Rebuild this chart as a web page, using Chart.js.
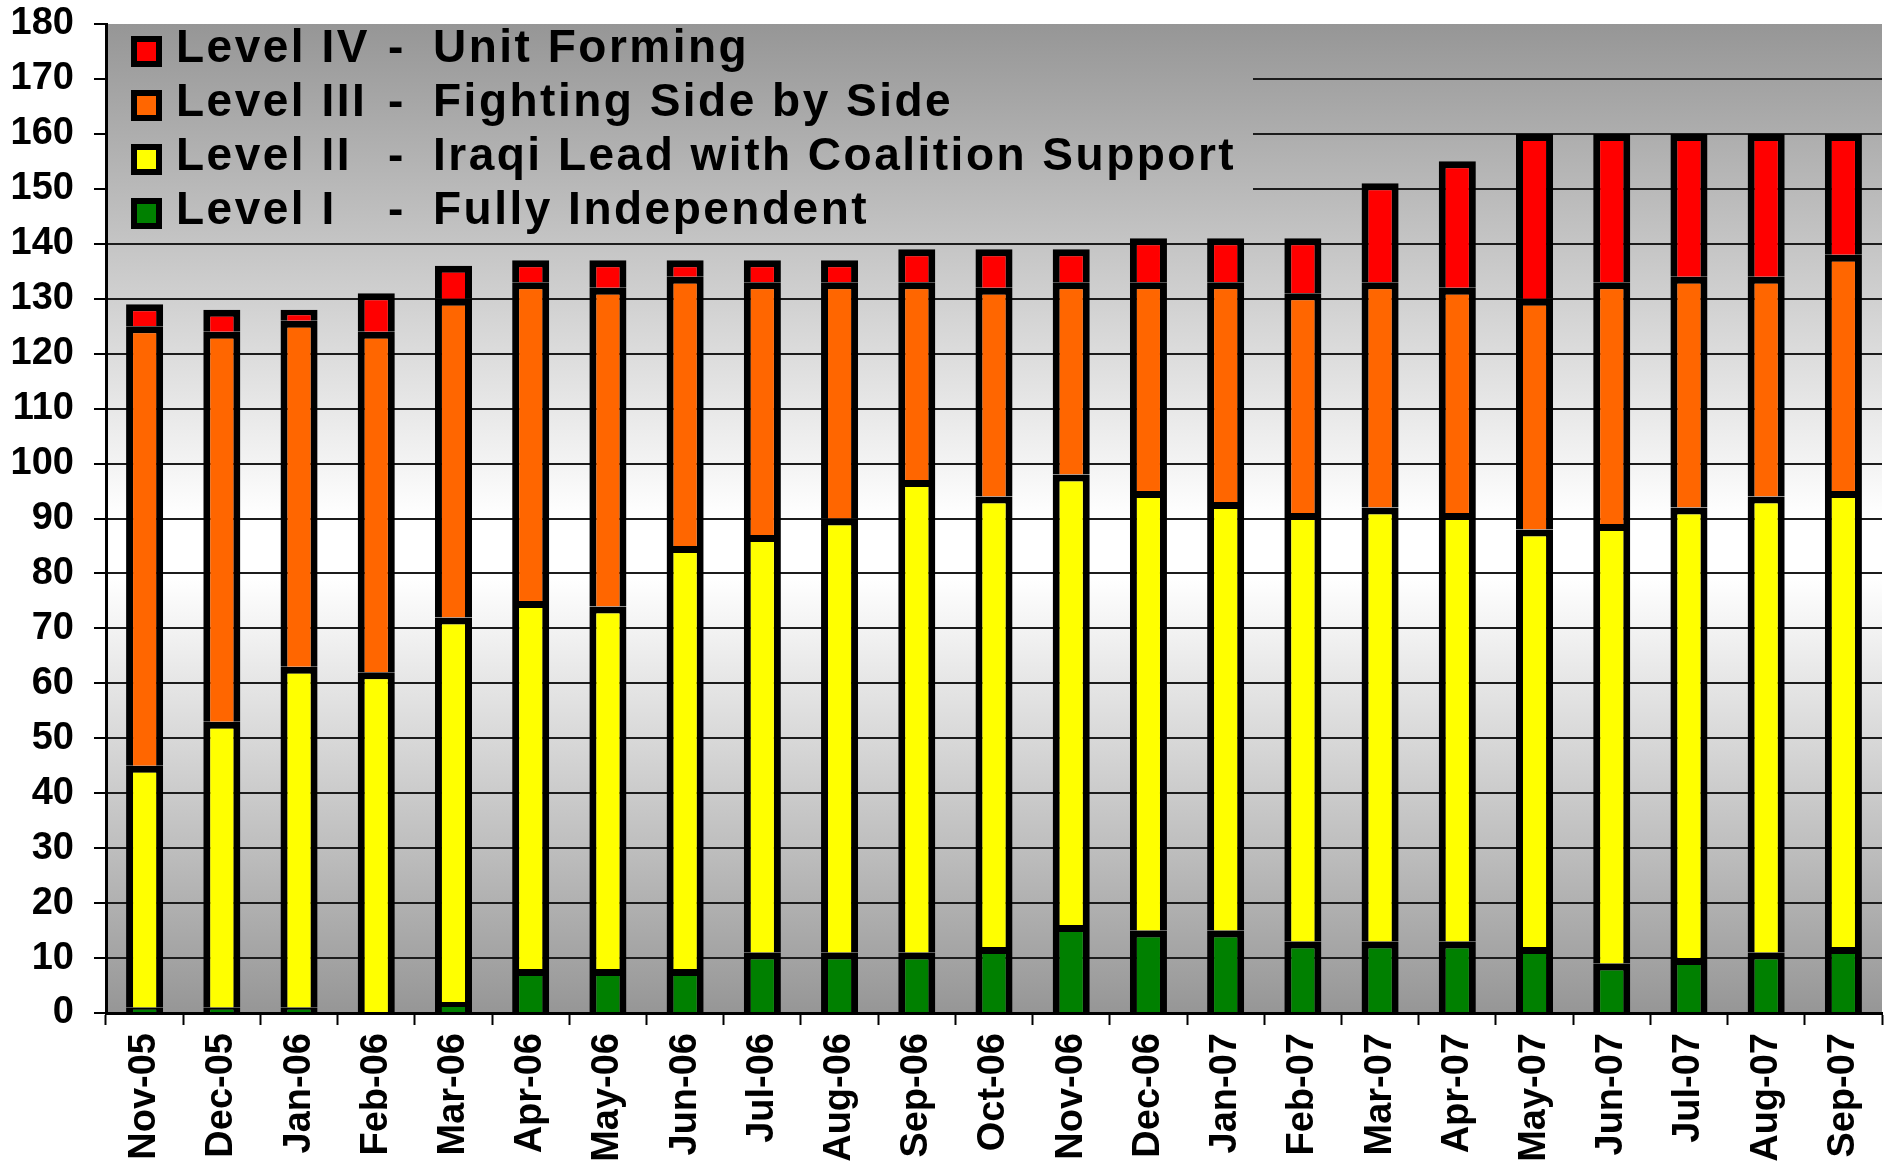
<!DOCTYPE html>
<html>
<head>
<meta charset="utf-8">
<script src="https://cdn.jsdelivr.net/npm/chart.js@4.4.0/dist/chart.umd.min.js"></script>
<style>
  html, body { margin: 0; padding: 0; background: #fff; }
</style>
</head>
<body>
<canvas id="levels" width="1886" height="1168"></canvas>
<script>
// months on the x axis
const months = ['Nov-05', 'Dec-05', 'Jan-06', 'Feb-06', 'Mar-06', 'Apr-06', 'May-06', 'Jun-06',
  'Jul-06', 'Aug-06', 'Sep-06', 'Oct-06', 'Nov-06', 'Dec-06', 'Jan-07', 'Feb-07', 'Mar-07',
  'Apr-07', 'May-07', 'Jun-07', 'Jul-07', 'Aug-07', 'Sep-07'];

// units per readiness level, stacked bottom to top
const level1 = [1, 1, 1, 0, 2, 8, 8, 8, 11, 11, 11, 12, 16, 15, 15, 13, 13, 13, 12, 9, 10, 11, 12];
const level2 = [44, 52, 62, 62, 70, 67, 66, 77, 76, 79, 86, 82, 82, 80, 78, 78, 79, 78, 76, 80, 82, 83, 83];
const level3 = [80, 71, 63, 62, 58, 58, 58, 49, 46, 43, 36, 38, 35, 38, 40, 40, 41, 41, 42, 44, 42, 40, 43];
const level4 = [4, 4, 2, 7, 6, 4, 5, 3, 4, 4, 6, 7, 6, 8, 8, 10, 18, 23, 30, 27, 26, 26, 22];

const levelNames = ['Level I', 'Level II', 'Level III', 'Level IV'];
const levelDescs = ['Fully Independent', 'Iraqi Lead with Coalition Support', 'Fighting Side by Side', 'Unit Forming'];
const levelColors = ['#008000', '#ffff00', '#ff6600', '#ff0000'];

const yTicks = { min: 0, max: 180, step: 10 };

const FONT = '"Liberation Sans", Arial, sans-serif';

function areaGradient(ctx, area) {
  const g = ctx.createLinearGradient(0, area.top, 0, area.bottom);
  g.addColorStop(0, '#969696');
  g.addColorStop(0.5, '#ffffff');
  g.addColorStop(0.56, '#ffffff');
  g.addColorStop(1, '#969696');
  return g;
}

function drawSpaced(ctx, text, x, y, gap) {
  for (const ch of text) {
    ctx.fillText(ch, x, y);
    x += ctx.measureText(ch).width + gap;
  }
}

const backdrop = {
  id: 'backdrop',
  beforeDraw(chart) {
    const { ctx, chartArea } = chart;
    ctx.save();
    ctx.fillStyle = '#ffffff';
    ctx.fillRect(0, 0, chart.width, chart.height);
    ctx.fillStyle = areaGradient(ctx, chartArea);
    ctx.fillRect(chartArea.left, chartArea.top, chartArea.right - chartArea.left, chartArea.bottom - chartArea.top);
    ctx.restore();
  }
};

// legend panel sits over the top-left gridlines, under the bars
const levelLegend = {
  id: 'levelLegend',
  beforeDatasetsDraw(chart) {
    const { ctx, chartArea, scales } = chart;
    const bottom = scales.y.getPixelForValue(141);
    ctx.save();
    ctx.fillStyle = areaGradient(ctx, chartArea);
    ctx.fillRect(chartArea.left + 2, chartArea.top, 1251 - chartArea.left, bottom - chartArea.top);
    ctx.font = 'bold 46px ' + FONT;
    ctx.textBaseline = 'alphabetic';
    for (let row = 0; row < 4; row++) {
      const i = 3 - row;
      const base = 62 + row * 54;
      ctx.fillStyle = '#000';
      ctx.fillRect(131, base - 26, 31, 31);
      ctx.fillStyle = levelColors[i];
      ctx.fillRect(137, base - 20, 19, 19);
      ctx.fillStyle = '#000';
      drawSpaced(ctx, levelNames[i], 176, base, 2.5);
      drawSpaced(ctx, '-', 388, base, 0);
      drawSpaced(ctx, levelDescs[i], 433, base, 2.5);
    }
    ctx.restore();
  }
};

const series = [level1, level2, level3, level4];

new Chart(document.getElementById('levels'), {
  type: 'bar',
  data: {
    labels: months,
    datasets: series.map((values, i) => ({
      label: levelNames[i] + ' - ' + levelDescs[i],
      data: values,
      backgroundColor: levelColors[i],
      borderColor: '#000000',
      borderWidth: 7,
      barPercentage: 0.48,
      categoryPercentage: 1
    }))
  },
  options: {
    responsive: false,
    devicePixelRatio: 1,
    animation: false,
    layout: { padding: { top: 24, right: 4, left: 0, bottom: 0 } },
    plugins: { legend: { display: false }, tooltip: { enabled: false } },
    scales: {
      x: {
        stacked: true,
        afterFit(scale) {
          scale.height = 155;
          scale.paddingLeft = 0;
          scale.paddingRight = 0;
        },
        grid: { drawOnChartArea: false, drawTicks: true, tickLength: 12, tickColor: '#000', tickWidth: 2, offset: true },
        border: { color: '#000', width: 3 },
        ticks: {
          minRotation: 90, maxRotation: 90, autoSkip: false, padding: 8, color: '#000',
          font: { family: FONT, size: 38, weight: 'bold' }
        }
      },
      y: {
        stacked: true,
        min: yTicks.min,
        max: yTicks.max,
        afterFit(scale) {
          scale.width = 106;
          scale.paddingTop = 0;
          scale.paddingBottom = 0;
        },
        grid: {
          color: (c) => (c.tick && c.tick.value === yTicks.max) ? 'rgba(0,0,0,0)' : '#1c1c1c',
          lineWidth: 2,
          tickLength: 12,
          tickColor: '#000',
          tickWidth: 2
        },
        border: { color: '#000', width: 3 },
        ticks: {
          stepSize: yTicks.step, padding: 20, color: '#000',
          font: { family: FONT, size: 38, weight: 'bold' }
        }
      }
    }
  },
  plugins: [backdrop, levelLegend]
});
</script>
</body>
</html>
